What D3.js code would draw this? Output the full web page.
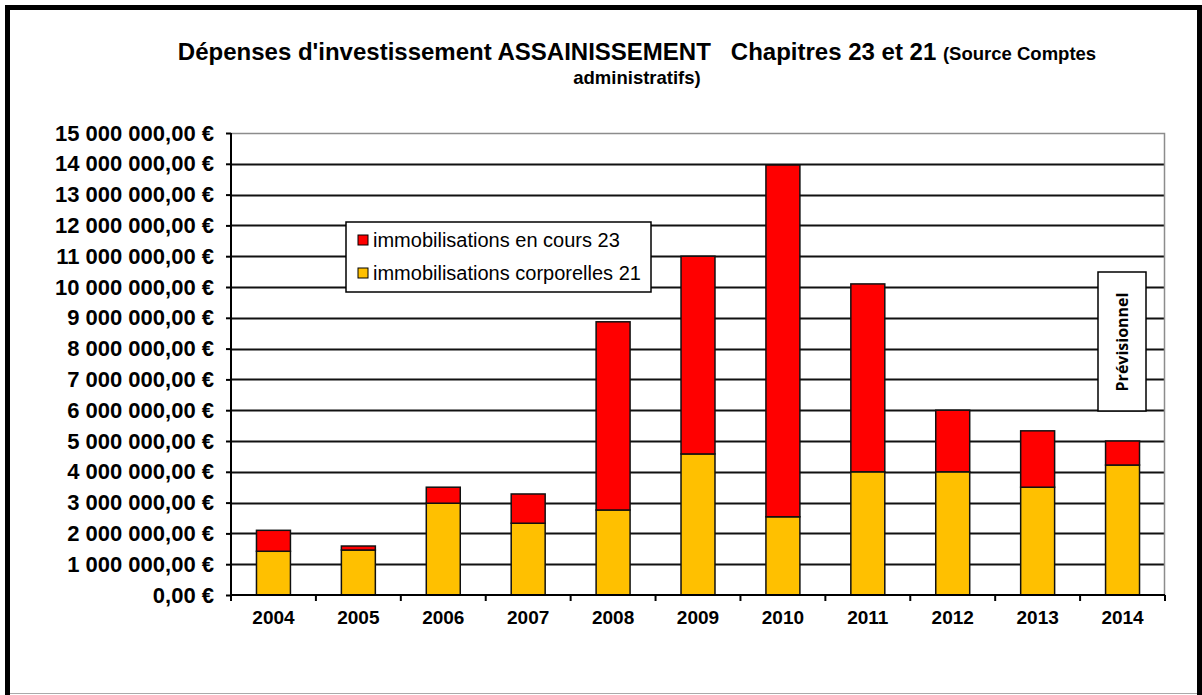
<!DOCTYPE html>
<html>
<head>
<meta charset="utf-8">
<script src="https://cdnjs.cloudflare.com/ajax/libs/d3/7.8.5/d3.min.js"></script>
<style>
body { margin: 0; background: #fff; }
svg { display: block; }
text { font-family: "Liberation Sans", Arial, sans-serif; }
</style>
</head>
<body>
<div id="chart"></div>
<script>
var years = ["2004", "2005", "2006", "2007", "2008", "2009", "2010", "2011", "2012", "2013", "2014"];
// chapitre 21 (bas, jaune)
var corporelles21 = [1420000, 1460000, 2980000, 2330000, 2760000, 4580000, 2540000, 4000000, 4000000, 3500000, 4220000];
// chapitre 23 (haut, rouge)
var enCours23 = [680000, 130000, 520000, 950000, 6110000, 6420000, 11420000, 6100000, 2000000, 1830000, 780000];
var yTicks = d3.range(0, 15000001, 1000000);
var seriesNames = ["immobilisations en cours 23", "immobilisations corporelles 21"];
var colors = { c21: "#ffc000", c23: "#ff0000" };

var W = 1202, H = 695;
var margin = { top: 133, right: 37, bottom: 100, left: 231 };
var width = 1165 - margin.left, height = 595 - margin.top;

var svg = d3.select("#chart").append("svg")
	.attr("width", W)
	.attr("height", H);

// cadre
svg.append("rect")
	.attr("x", 0).attr("y", 0).attr("width", W).attr("height", H)
	.attr("fill", "#fff");
svg.append("path")
	.attr("d", "M7.5,695 V7.5 H1199.5 V695")
	.attr("fill", "none").attr("stroke", "#000").attr("stroke-width", 5);
svg.append("line")
	.attr("x1", 10).attr("x2", 1197).attr("y1", 693.5).attr("y2", 693.5)
	.attr("stroke", "#aaa").attr("stroke-width", 1);

// titre
var title = svg.append("text")
	.attr("x", 637).attr("y", 60)
	.attr("text-anchor", "middle")
	.style("white-space", "pre")
	.style("font-weight", "bold");
title.append("tspan").style("font-size", "24px")
	.text("Dépenses d'investissement ASSAINISSEMENT   Chapitres 23 et 21 ");
title.append("tspan").style("font-size", "18.5px").text("(Source Comptes");
svg.append("text")
	.attr("x", 637).attr("y", 84)
	.attr("text-anchor", "middle")
	.style("font-weight", "bold").style("font-size", "18.5px")
	.text("administratifs)");

var g = svg.append("g")
	.attr("transform", "translate(" + margin.left + "," + margin.top + ")");

var x = d3.scaleBand().domain(years).range([0, width]).paddingInner(0.6).paddingOuter(0.3);
var y = d3.scaleLinear().domain([0, 15000000]).range([height, 0]);

// grille
g.selectAll(".grid").data(yTicks.slice(1, -1)).enter().append("line")
	.attr("x1", 0).attr("x2", width)
	.attr("y1", function (d) { return Math.round(y(d)) + 0.5; })
	.attr("y2", function (d) { return Math.round(y(d)) + 0.5; })
	.attr("stroke", "#111").attr("stroke-width", 2);

// cadre zone de tracé
g.append("path")
	.attr("d", "M0,0.5 H" + (width - 0.5) + " V" + height)
	.attr("fill", "none").attr("stroke", "#8c8c8c").attr("stroke-width", 1.5);

// barres
var fmt = d3.formatLocale({ decimal: ",", thousands: " ", grouping: [3], currency: ["", " €"] }).format("$,.2f");
var stack = years.map(function (yr, i) {
	return { year: yr, c21: corporelles21[i], c23: enCours23[i] };
});
var bars = g.selectAll(".bar").data(stack).enter().append("g");
bars.append("rect")
	.attr("x", function (d) { return x(d.year); })
	.attr("width", x.bandwidth())
	.attr("y", function (d) { return y(d.c21); })
	.attr("height", function (d) { return height - y(d.c21); })
	.attr("fill", colors.c21).attr("stroke", "#111").attr("stroke-width", 1.5);
bars.append("rect")
	.attr("x", function (d) { return x(d.year); })
	.attr("width", x.bandwidth())
	.attr("y", function (d) { return y(d.c21 + d.c23); })
	.attr("height", function (d) { return y(d.c21) - y(d.c21 + d.c23); })
	.attr("fill", colors.c23).attr("stroke", "#111").attr("stroke-width", 1.5);

// axe Y
var yAxis = d3.axisLeft(y).tickValues(yTicks).tickSize(5).tickPadding(12).tickFormat(fmt);
var gy = g.append("g").call(yAxis);
gy.select(".domain").attr("stroke", "#000").attr("stroke-width", 2).attr("d", "M0,0 V" + height);
gy.selectAll(".tick line").attr("stroke", "#000").attr("stroke-width", 2);
gy.selectAll(".tick text")
	.style("font-family", "Liberation Sans, Arial, sans-serif")
	.style("font-size", "22px").style("font-weight", "bold").attr("fill", "#000");

// axe X
var xAxis = d3.axisBottom(x).tickSize(0).tickPadding(16);
var gx = g.append("g").attr("transform", "translate(0," + height + ")").call(xAxis);
gx.select(".domain").attr("stroke", "#000").attr("stroke-width", 2).attr("d", "M0,0 H" + width);
gx.selectAll(".tick text")
	.style("font-family", "Liberation Sans, Arial, sans-serif")
	.style("font-size", "19px").style("font-weight", "bold").attr("fill", "#000");
gx.selectAll(".sep").data(d3.range(0, years.length + 1)).enter().append("line")
	.attr("x1", function (i) { return i * width / years.length; })
	.attr("x2", function (i) { return i * width / years.length; })
	.attr("y1", 0).attr("y2", 6)
	.attr("stroke", "#000").attr("stroke-width", 2);

// légende
var leg = svg.append("g").attr("transform", "translate(346,222)");
leg.append("rect").attr("width", 305).attr("height", 70)
	.attr("fill", "#fff").attr("stroke", "#000").attr("stroke-width", 1.5);
var legColors = [colors.c23, colors.c21];
seriesNames.forEach(function (name, i) {
	var ly = 18 + i * 33;
	leg.append("rect").attr("x", 12).attr("y", ly - 5).attr("width", 10).attr("height", 10)
		.attr("fill", legColors[i]).attr("stroke", "#000").attr("stroke-width", 1);
	leg.append("text").attr("x", 27).attr("y", ly + 7)
		.style("font-size", "20px").text(name);
});

// encadré Prévisionnel
var pv = svg.append("g").attr("transform", "translate(1098,272)");
pv.append("rect").attr("width", 48).attr("height", 139)
	.attr("fill", "#fff").attr("stroke", "#000").attr("stroke-width", 1.5);
pv.append("text")
	.attr("transform", "translate(30,70) rotate(-90)")
	.attr("text-anchor", "middle")
	.style("font-family", "'Open Sans', 'Noto Sans', sans-serif")
	.style("font-size", "16px").style("font-weight", "bold")
	.text("Prévisionnel");
</script>
</body>
</html>
